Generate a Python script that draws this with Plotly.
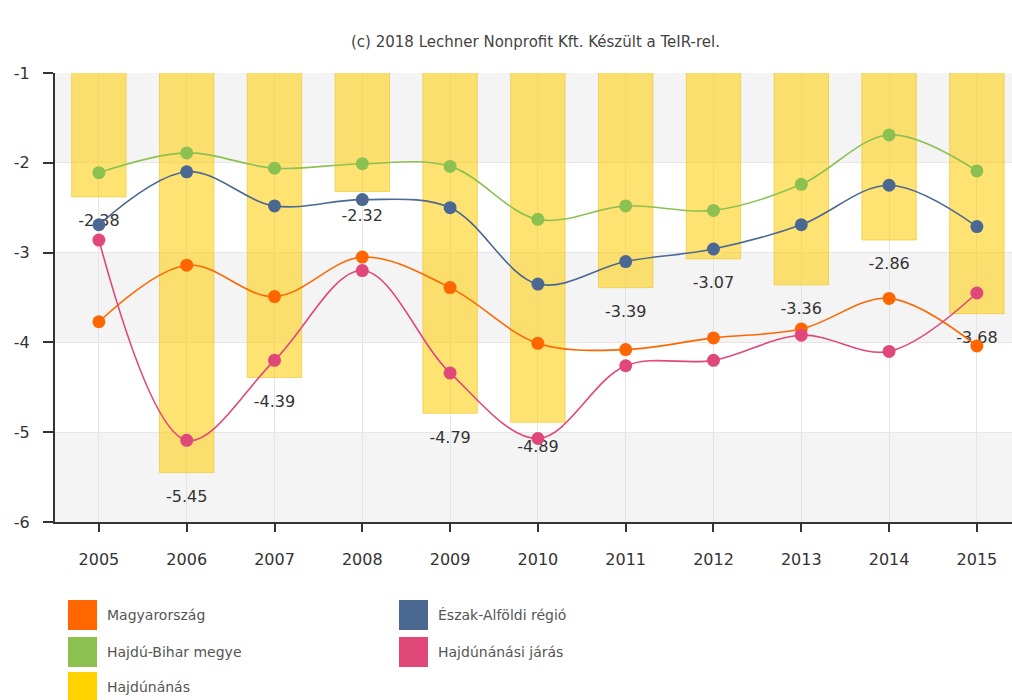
import plotly.graph_objects as go

years = ["2005", "2006", "2007", "2008", "2009", "2010", "2011", "2012", "2013", "2014", "2015"]

magyarorszag = [-3.77, -3.14, -3.49, -3.05, -3.39, -4.01, -4.08, -3.95, -3.85, -3.51, -4.04]
eszak_alfoldi = [-2.69, -2.10, -2.48, -2.41, -2.50, -3.35, -3.10, -2.96, -2.69, -2.25, -2.71]
hajdu_bihar = [-2.11, -1.89, -2.06, -2.01, -2.04, -2.63, -2.48, -2.53, -2.24, -1.69, -2.09]
hajdunanasi_jaras = [-2.86, -5.09, -4.20, -3.20, -4.34, -5.07, -4.26, -4.20, -3.92, -4.10, -3.45]
hajdunanas = [-2.38, -5.45, -4.39, -2.32, -4.79, -4.89, -3.39, -3.07, -3.36, -2.86, -3.68]

y_ticks = [-1, -2, -3, -4, -5, -6]
title_text = "(c) 2018 Lechner Nonprofit Kft. Készült a TeIR-rel."

line_series = [
    ("Magyarország", magyarorszag, "#ff6600"),
    ("Észak-Alföldi régió", eszak_alfoldi, "#4a6891"),
    ("Hajdú-Bihar megye", hajdu_bihar, "#8cc152"),
    ("Hajdúnánási járás", hajdunanasi_jaras, "#e0487a"),
]
bar_name = "Hajdúnánás"
bar_color = "#ffd200"

W, H = 1012, 700
ML, MR, MT, MB = 55, 0, 73, 178
PW, PH = W - ML - MR, H - MT - MB
FONT = "DejaVu Sans, Verdana, sans-serif"


def px(x):
    return (x - ML) / PW


def py(y):
    return (H - MB - y) / PH


fig = go.Figure()

fig.add_trace(go.Bar(
    x=years, y=hajdunanas, name=bar_name,
    marker=dict(color="rgba(255,208,20,0.6)", line=dict(color="rgba(235,195,40,0.6)", width=1)),
    width=0.62, showlegend=False,
))

# value labels of the bars (drawn beneath the line markers)
fig.add_trace(go.Scatter(
    x=years, y=hajdunanas, mode="markers+text", name=bar_name + " címkék",
    text=[f"{v:.2f}" for v in hajdunanas], textposition="bottom center",
    textfont=dict(family=FONT, size=16, color="#333333"),
    marker=dict(size=26, opacity=0), hoverinfo="skip", showlegend=False,
))

for name, vals, col in line_series:
    fig.add_trace(go.Scatter(
        x=years, y=vals, name=name, mode="lines+markers",
        line=dict(color=col, width=1.6, shape="spline", smoothing=1.0),
        marker=dict(color=col, size=13),
        showlegend=False,
    ))

# background bands
shapes = []
for top in [-1, -3, -5]:
    shapes.append(dict(type="rect", xref="paper", yref="y", x0=0, x1=1, y0=top, y1=top - 1,
                       fillcolor="#f4f4f4", line=dict(width=0), layer="below"))

annotations = [dict(x=px(535), y=py(42), xref="paper", yref="paper", text=title_text, showarrow=False,
                    xanchor="center", yanchor="middle",
                    font=dict(family=FONT, size=15, color="#444444"))]

# legend
legend_items = [
    (line_series[0][0], line_series[0][2], 68, 615),
    (line_series[2][0], line_series[2][2], 68, 652),
    (bar_name, bar_color, 68, 687),
    (line_series[1][0], line_series[1][2], 399, 615),
    (line_series[3][0], line_series[3][2], 399, 652),
]
sq_w, sq_h = 29, 30
for name, col, x0, yc in legend_items:
    shapes.append(dict(type="rect", xref="paper", yref="paper",
                       x0=px(x0), x1=px(x0 + sq_w), y0=py(yc - sq_h / 2), y1=py(yc + sq_h / 2),
                       fillcolor=col, line=dict(width=0)))
    annotations.append(dict(x=px(x0 + sq_w + 8), y=py(yc), xref="paper", yref="paper", text=name,
                            showarrow=False, xanchor="left", yanchor="middle",
                            font=dict(family=FONT, size=14, color="#555555")))

fig.update_layout(
    width=W, height=H,
    margin=dict(l=ML, r=MR, t=MT, b=MB),
    paper_bgcolor="white", plot_bgcolor="white",
    shapes=shapes, annotations=annotations,
    showlegend=False,
    font=dict(family=FONT, color="#333333"),
    xaxis=dict(type="category", range=[-0.5, 10.4], showgrid=True, gridcolor="#e4e4e4",
               ticks="outside", ticklen=8, tickwidth=2, tickcolor="#333333",
               showline=True, linecolor="#333333", linewidth=2, ticklabelstandoff=14,
               tickfont=dict(family=FONT, size=16, color="#333333"), fixedrange=True),
    yaxis=dict(range=[-6, -1], tickvals=y_ticks, ticktext=[str(t) for t in y_ticks],
               showgrid=True, gridcolor="#e6e6e6", zeroline=False,
               ticks="outside", ticklen=10, tickwidth=2, tickcolor="#333333",
               showline=True, linecolor="#333333", linewidth=2, ticklabelstandoff=10,
               tickfont=dict(family=FONT, size=16, color="#333333"), fixedrange=True),
    bargap=0.38,
)

fig.write_html("out.html", config={"displayModeBar": False},
               post_script="document.body.style.margin='0';document.body.style.overflow='hidden';")
